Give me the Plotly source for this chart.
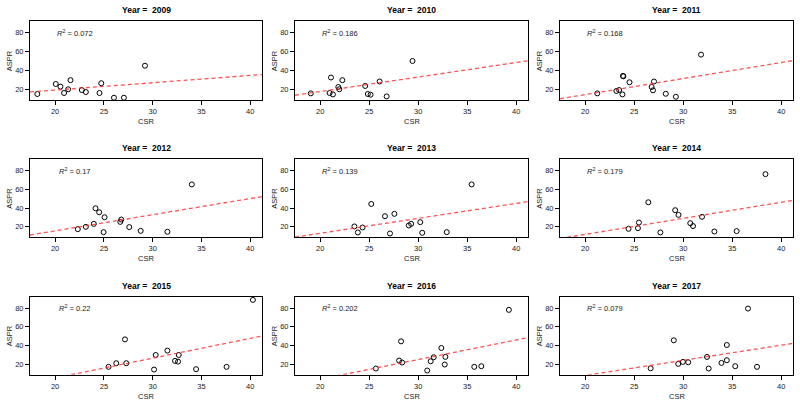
import plotly.graph_objects as go

years = [2009, 2010, 2011, 2012, 2013, 2014, 2015, 2016, 2017]

csr_2009 = [18.18, 20.07, 20.55, 21.58, 20.92, 21.34, 22.74, 23.15, 24.55, 24.73, 26.03, 27.05, 29.21]
aspr_2009 = [15.4, 26.0, 23.2, 30.0, 16.5, 20.4, 19.6, 17.5, 16.5, 26.8, 11.5, 11.5, 45.2]

csr_2010 = [19.04, 21.10, 20.96, 21.30, 21.85, 21.95, 22.26, 24.59, 24.86, 25.14, 26.06, 26.78, 29.42]
aspr_2010 = [16.1, 32.8, 16.5, 15.0, 22.8, 20.4, 30.0, 23.9, 15.4, 14.7, 28.6, 12.9, 50.2]

csr_2011 = [21.23, 23.18, 23.46, 23.80, 23.85, 23.90, 24.52, 26.78, 26.92, 27.02, 28.22, 29.25, 31.82]
aspr_2011 = [16.1, 18.6, 19.6, 15.0, 34.5, 34.0, 27.8, 22.8, 19.3, 28.6, 15.7, 12.5, 56.9]

csr_2012 = [22.33, 23.15, 23.97, 24.14, 24.52, 24.97, 25.07, 26.68, 26.78, 27.60, 28.77, 31.51, 34.01]
aspr_2012 = [17.5, 20.0, 23.2, 39.9, 35.6, 14.3, 30.3, 25.3, 27.8, 19.7, 15.7, 14.7, 65.4]

csr_2013 = [23.49, 23.84, 24.32, 25.21, 26.61, 27.12, 27.57, 29.04, 29.28, 30.21, 30.41, 32.91, 35.45]
aspr_2013 = [20.4, 14.0, 19.3, 44.5, 31.4, 12.9, 33.9, 21.5, 23.2, 25.0, 13.6, 14.3, 65.4]

csr_2014 = [24.42, 25.38, 25.48, 26.44, 27.67, 29.18, 29.52, 30.72, 31.00, 31.92, 33.18, 35.45, 38.39]
aspr_2014 = [17.9, 18.6, 24.6, 46.3, 14.0, 37.8, 32.8, 23.9, 20.8, 30.7, 15.0, 15.4, 76.4]

csr_2015 = [25.48, 26.27, 27.16, 27.29, 30.14, 30.31, 31.51, 32.29, 32.60, 32.67, 34.45, 37.57, 40.27]
aspr_2015 = [17.2, 21.1, 46.6, 21.1, 14.3, 29.9, 34.6, 23.6, 22.8, 29.9, 14.7, 17.2, 88.9]

csr_2016 = [25.68, 28.05, 28.25, 28.36, 30.92, 31.27, 31.58, 32.36, 32.71, 32.77, 35.72, 36.44, 39.25]
aspr_2016 = [15.4, 23.9, 44.5, 21.8, 13.3, 23.2, 27.5, 37.4, 19.7, 27.9, 17.2, 17.9, 78.2]

csr_2017 = [26.68, 29.04, 29.49, 29.97, 30.51, 32.43, 32.60, 33.90, 34.45, 34.45, 35.31, 36.61, 37.53]
aspr_2017 = [15.7, 45.6, 20.4, 22.5, 22.1, 27.8, 15.4, 21.4, 24.3, 40.6, 17.9, 79.6, 17.2]

r2_labels = ["0.072", "0.186", "0.168", "0.17", "0.139", "0.179", "0.22", "0.202", "0.079"]
fit_intercepts = [4.2, -12.5, -19.0, -18.9, -18.9, -22.5, -37.1, -38.0, -24.4]
fit_slopes = [0.77, 1.527, 1.69, 1.73, 1.60, 1.72, 2.12, 2.10, 1.62]

x_ticks = [20, 25, 30, 35, 40]
y_ticks = [20, 40, 60, 80]

csr_all = [csr_2009, csr_2010, csr_2011, csr_2012, csr_2013, csr_2014, csr_2015, csr_2016, csr_2017]
aspr_all = [aspr_2009, aspr_2010, aspr_2011, aspr_2012, aspr_2013, aspr_2014, aspr_2015, aspr_2016, aspr_2017]

W, H = 800, 405
X_RANGE = [17.43, 41.2]
Y_RANGE = [8.8, 92.3]
col_px = [(30, 262), (295, 528), (560, 793)]
row_px = [(21, 100.3), (159.3, 237.3), (296.7, 374.7)]
FONT = "Arial, Liberation Sans, Helvetica, sans-serif"

fig = go.Figure()
layout = {}
annotations = []

for i, year in enumerate(years):
    r, c = divmod(i, 3)
    suf = "" if i == 0 else str(i + 1)
    xa, ya = "x" + suf, "y" + suf
    x0, x1 = col_px[c]
    y0, y1 = row_px[r]

    fig.add_trace(go.Scatter(
        x=csr_all[i], y=aspr_all[i], mode="markers",
        marker=dict(symbol="circle-open", size=5, color="black", line=dict(width=1)),
        xaxis=xa, yaxis=ya, showlegend=False, hoverinfo="skip"))

    lx = X_RANGE
    ly = [fit_intercepts[i] + fit_slopes[i] * v for v in lx]
    fig.add_trace(go.Scatter(
        x=lx, y=ly, mode="lines",
        line=dict(color="rgba(255,40,40,0.8)", width=1.3, dash="4px,3px"),
        xaxis=xa, yaxis=ya, showlegend=False, hoverinfo="skip"))

    layout["xaxis" + suf] = dict(
        domain=[x0 / W, x1 / W], anchor=ya, range=X_RANGE,
        tickvals=x_ticks, ticks="outside", ticklen=4, tickcolor="black",
        showline=True, mirror=True, linecolor="black", linewidth=1,
        showgrid=False, zeroline=False, fixedrange=True,
        tickfont=dict(family=FONT, size=7.5, color="#222"))
    layout["yaxis" + suf] = dict(
        domain=[1 - y1 / H, 1 - y0 / H], anchor=xa, range=Y_RANGE,
        tickvals=y_ticks, ticks="outside", ticklen=4, tickcolor="black",
        showline=True, mirror=True, linecolor="black", linewidth=1,
        showgrid=False, zeroline=False, fixedrange=True,
        tickfont=dict(family=FONT, size=7.5, color="#222"))

    cx = (x0 + x1) / 2 / W
    annotations.append(dict(
        text="<b>Year =  %d</b>" % year, x=cx, y=1 - (y0 - 11) / H,
        xref="paper", yref="paper", showarrow=False,
        font=dict(family=FONT, size=8.5, color="black"),
        xanchor="center", yanchor="middle"))
    annotations.append(dict(
        text="CSR", x=cx, y=1 - (y1 + 21.5) / H,
        xref="paper", yref="paper", showarrow=False,
        font=dict(family=FONT, size=7.5, color="#222"),
        xanchor="center", yanchor="middle"))
    annotations.append(dict(
        text="ASPR", x=(x0 - 20.5) / W, y=1 - (y0 + y1) / 2 / H,
        xref="paper", yref="paper", showarrow=False, textangle=-90,
        font=dict(family=FONT, size=7.5, color="#222"),
        xanchor="center", yanchor="middle"))
    annotations.append(dict(
        text="<i>R</i><sup>2</sup> = " + r2_labels[i], x=22, y=80,
        xref=xa, yref=ya, showarrow=False,
        font=dict(family=FONT, size=7.5, color="#222"),
        xanchor="center", yanchor="middle"))

fig.update_layout(
    width=W, height=H, margin=dict(l=0, r=0, t=0, b=0),
    paper_bgcolor="white", plot_bgcolor="white",
    annotations=annotations, **layout)

fig.write_html(
    "out.html",
    config={"displayModeBar": False, "staticPlot": True},
    post_script="document.body.style.margin='0';document.body.style.overflow='hidden';")
